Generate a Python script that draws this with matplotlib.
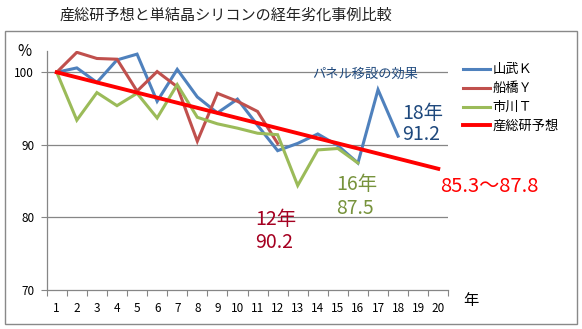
# -*- coding: utf-8 -*-
# 産総研予想と単結晶シリコンの経年劣化事例比較
import matplotlib
matplotlib.use('Agg')
import matplotlib.pyplot as plt
from matplotlib.patches import Rectangle

plt.rcParams['font.family'] = ['Noto Sans CJK JP', 'DejaVu Sans']

# データ
years = list(range(1, 21))
sanbu_k = [100, 100.6, 98.6, 101.7, 102.5, 96.0, 100.4, 96.6, 94.4, 96.3,
           92.7, 89.2, 90.2, 91.5, 89.9, 87.5, 97.6, 91.2]
funabashi_y = [100, 102.75, 101.9, 101.8, 97.4, 100.1, 98.0, 90.5, 97.1, 96.0,
               94.6, 90.2]
ichikawa_t = [100, 93.4, 97.2, 95.4, 97.1, 93.7, 98.3, 93.8, 92.9, 92.3,
              91.6, 91.4, 84.4, 89.3, 89.5, 87.5]
aist = [100.0, 99.3, 98.6, 97.9, 97.2, 96.5, 95.8, 95.1, 94.4, 93.7,
        93.0, 92.3, 91.6, 90.9, 90.2, 89.5, 88.8, 88.1, 87.4, 86.7]
labels = ['山武Ｋ', '船橋Ｙ', '市川Ｔ', '産総研予想']
colors = ['#4F81BD', '#C0504D', '#9BBB59', '#FF0000']
y_ticks = [70, 80, 90, 100]

fig = plt.figure(figsize=(5.82, 3.29), dpi=100)
ax = fig.add_axes([46.7/582, 1-290/329, (448.3-46.7)/582, (290-50.5)/329])

lines = []
for vals, c, lab in zip([sanbu_k, funabashi_y, ichikawa_t], colors[:3], labels[:3]):
    l, = ax.plot(years[:len(vals)], vals, color=c, lw=2.2, label=lab, solid_joinstyle='miter')
    lines.append(l)
l, = ax.plot(years, aist, color=colors[3], lw=2.8, label=labels[3])
lines.append(l)

ax.set_xlim(0.5, 20.5)
ax.set_ylim(70, 103)

# 軸の見た目
grid_c = '#868686'
for s in ['top', 'right']:
    ax.spines[s].set_visible(False)
for s in ['left', 'bottom']:
    ax.spines[s].set_color(grid_c)
    ax.spines[s].set_linewidth(0.9)
ax.set_yticks(y_ticks)
ax.set_yticklabels([str(v) for v in y_ticks])
for v in y_ticks[1:]:
    ax.axhline(v, color=grid_c, lw=0.9, zorder=0)
ax.set_xticks([x + 0.5 for x in range(0, 21)])
ax.set_xticklabels([])
ax.set_xticks(years, minor=True)
ax.set_xticklabels([str(y) for y in years], minor=True)
ax.tick_params(axis='x', which='major', length=4, color=grid_c, direction='out')
ax.tick_params(axis='x', which='minor', length=0, labelsize=8.5, pad=9)
ax.tick_params(axis='y', length=4, color=grid_c, labelsize=8.5, pad=5)

# 注記
fig.text(60/582, 1-15/329, '産総研予想と単結晶シリコンの経年劣化事例比較',
         fontsize=10.9, color='#222222', va='center', ha='left')
fig.text(17/582, 1-52/329, '%', fontsize=11, va='center', ha='left')
fig.text(463/582, 1-300/329, '年', fontsize=11, va='center', ha='left')
ax.text(16.35, 99.7, 'パネル移設の効果', color='#1F497D', fontsize=9.5,
        ha='center', va='center')
ax.text(18.2, 92.9, '18年\n91.2', color='#1F497D', fontsize=14,
        ha='left', va='center', linespacing=1.0)
ax.text(14.9, 82.9, '16年\n87.5', color='#77933C', fontsize=14,
        ha='left', va='center', linespacing=1.15)
ax.text(10.9, 78.1, '12年\n90.2', color='#A50021', fontsize=14,
        ha='left', va='center', linespacing=1.15)
ax.text(20.1, 84.3, '85.3～87.8', color='#FF0000', fontsize=14.5,
        ha='left', va='center', clip_on=False)

# 凡例
fig.legend(handles=lines, labels=labels, loc='upper left',
           bbox_to_anchor=(458/582, 1-58/329), frameon=False,
           fontsize=9.5, handlelength=2.0, handletextpad=0.2,
           labelspacing=0.45, borderaxespad=0)

# 外枠
fig.patches.append(Rectangle((5/582, 1-324/329), 572/582, 293/329,
                             transform=fig.transFigure, fill=False,
                             edgecolor='#898989', lw=1.0))

fig.savefig('out.png', dpi=100)
